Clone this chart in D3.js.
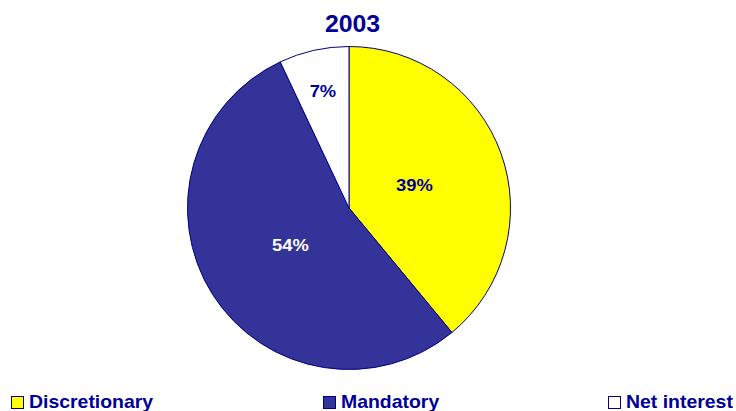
<!DOCTYPE html>
<html>
<head>
<meta charset="utf-8">
<script src="https://cdn.jsdelivr.net/npm/d3@7"></script>
<style>
  html, body { margin: 0; padding: 0; background: #ffffff; }
  svg { display: block; }
  text { font-family: "Liberation Sans", Arial, sans-serif; font-weight: bold; }
</style>
</head>
<body>
<svg id="chart" width="736" height="411"></svg>
<script>
// Federal outlays by category, 2003 (percent of total)
const title = "2003";
const categories = ["Discretionary", "Mandatory", "Net interest"];
const shares = [39, 54, 7];
const fills = ["#ffff00", "#333399", "#ffffff"];
const labelColors = ["#000099", "#ffffff", "#000099"];

const cx = 349, cy = 208, R = 161.5;
const stretch = 1.08; // the type is set slightly wide
const navy = "#000099";

const svg = d3.select("#chart");

// Title
svg.append("text")
  .attr("transform", `translate(352.5,32) scale(${stretch},1)`)
  .attr("text-anchor", "middle")
  .attr("font-size", 23)
  .attr("fill", navy)
  .text(title);

const data = categories.map((c, i) => ({ name: c, value: shares[i], fill: fills[i], lc: labelColors[i] }));

const pie = d3.pie().sort(null).value(d => d.value);
const arcs = pie(data);
const arc = d3.arc().innerRadius(0).outerRadius(R);

const g = svg.append("g").attr("transform", `translate(${cx},${cy})`);

g.selectAll("path.slice")
  .data(arcs)
  .join("path")
  .attr("class", "slice")
  .attr("d", arc)
  .attr("fill", d => d.data.fill)
  .attr("stroke", "#000080")
  .attr("stroke-width", 1);

// Percent labels on the mid-angle; narrow slices get their label further out
g.selectAll("text.pct")
  .data(arcs)
  .join("text")
  .attr("class", "pct")
  .attr("transform", d => {
    const narrow = (d.endAngle - d.startAngle) < 0.6;
    const r = narrow ? R * 0.74 : R * 0.43;
    const a = (d.startAngle + d.endAngle) / 2;
    const x = Math.sin(a) * r, y = -Math.cos(a) * r;
    return `translate(${x},${y}) scale(${stretch},1)`;
  })
  .attr("text-anchor", "middle")
  .attr("dy", "0.36em")
  .attr("font-size", 17)
  .attr("fill", d => d.data.lc)
  .text(d => d.value + "%");

// Legend along the bottom
const legendPos = { "Discretionary": 11, "Mandatory": 323, "Net interest": 608 };
const leg = svg.selectAll("g.leg")
  .data(data)
  .join("g")
  .attr("class", "leg")
  .attr("transform", d => `translate(${legendPos[d.name]},396)`);

leg.append("rect")
  .attr("x", 0.5).attr("y", 0.5)
  .attr("width", 12).attr("height", 12)
  .attr("fill", d => d.fill)
  .attr("stroke", "#000080")
  .attr("stroke-width", 1);

leg.append("text")
  .attr("transform", `translate(18,12) scale(${stretch},1)`)
  .attr("font-size", 18)
  .attr("fill", navy)
  .text(d => d.name);
</script>
</body>
</html>
